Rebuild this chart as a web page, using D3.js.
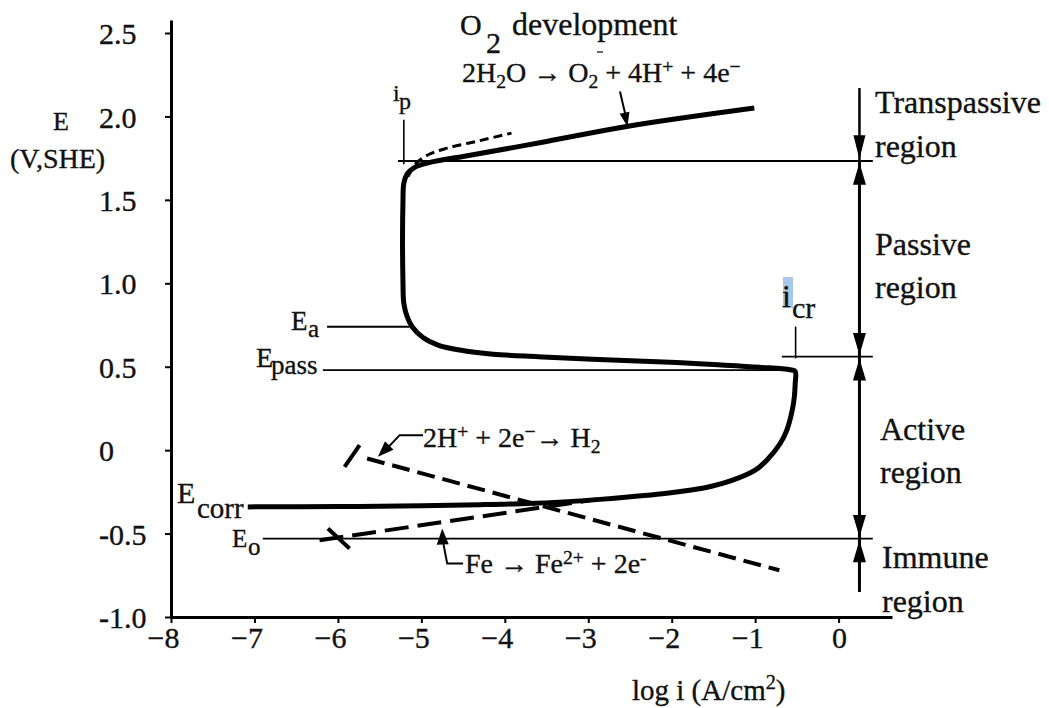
<!DOCTYPE html>
<html><head><meta charset="utf-8">
<script src="https://cdn.jsdelivr.net/npm/d3@7"></script>
<style>
html,body{margin:0;padding:0;background:#fff;}
svg{display:block;}
svg text{font-family:"Liberation Serif","DejaVu Serif",serif !important;fill:#111;stroke:#111;stroke-width:0.35px;}
</style></head><body>
<svg id="chart" width="1049" height="708" font-family="Liberation Serif"></svg>
<script>
// ---------- data ----------
const xTicks = [-8, -7, -6, -5, -4, -3, -2, -1, 0];
const xTickLabels = ["\u22128", "\u22127", "\u22126", "\u22125", "\u22124", "\u22123", "\u22122", "\u22121", "0"];
const yTicks = [-1.0, -0.5, 0, 0.5, 1.0, 1.5, 2.0, 2.5];
const yTickLabels = ["-1.0", "-0.5", "0", "0.5", "1.0", "1.5", "2.0", "2.5"];

// anodic polarization curve [log i, E]
const polarizationCurve = [
  [-7.08, -0.34], [-6.0, -0.338], [-5.0, -0.333], [-4.3, -0.327], [-3.74, -0.32],
  [-3.3, -0.31], [-2.86, -0.295], [-2.4, -0.275], [-2.06, -0.258], [-1.6, -0.225],
  [-1.27, -0.18], [-1.0, -0.12], [-0.86, -0.06], [-0.70, 0.04], [-0.62, 0.12],
  [-0.555, 0.24], [-0.53, 0.32], [-0.52, 0.40], [-0.52, 0.472], [-0.58, 0.482],
  [-0.95, 0.497], [-1.5, 0.513], [-1.94, 0.525], [-2.95, 0.545], [-3.6, 0.56],
  [-4.14, 0.575], [-4.54, 0.60], [-4.80, 0.63], [-4.98, 0.675], [-5.11, 0.74],
  [-5.17, 0.80], [-5.21, 0.88], [-5.22, 1.0], [-5.22, 1.50], [-5.21, 1.60],
  [-5.17, 1.655], [-5.08, 1.695], [-4.92, 1.722], [-4.69, 1.745], [-4.50, 1.76],
  [-3.5, 1.85], [-2.54, 1.94], [-1.01, 2.05]
];
const o2DashedCurve = [[-5.16, 1.64], [-5.06, 1.72], [-4.90, 1.775], [-4.69, 1.81], [-4.30, 1.855], [-3.92, 1.90]];
const h2Line = [[-5.65, -0.05], [-0.71, -0.72]];
const feLine = [[-6.22, -0.54], [-2.9, -0.295]];
const h2Mark = [[-5.92, -0.10], [-5.74, 0.03]];
const feMark = [[-6.12, -0.47], [-5.86, -0.59]];

// reference potentials
const E_trans = 1.733, E_cr = 0.56, E_o = -0.53, E_a = 0.74, E_pass = 0.48;
const i_p = -5.21, i_cr = -0.515;
const regionX = 0.25;

// ---------- setup ----------
const FONT = "Liberation Serif";
const svg = d3.select("#chart");
const xs = d3.scaleLinear().domain([-8, 0.64]).range([171, 892]);
const ys = d3.scaleLinear().domain([-1.0, 2.578]).range([617, 20]);
const line = d3.line().x(d => xs(d[0])).y(d => ys(d[1]));

// ---------- axes ----------
const gx = svg.append("g").attr("transform", `translate(0,${ys(-1.0)})`)
  .call(d3.axisBottom(xs).tickValues(xTicks).tickSizeInner(6).tickSizeOuter(0)
    .tickFormat((d, i) => xTickLabels[i]));
gx.attr("font-family", FONT);
gx.select(".domain").attr("stroke", "#000").attr("stroke-width", 3);
gx.selectAll(".tick line").attr("stroke", "#000").attr("stroke-width", 2);
gx.selectAll(".tick text").attr("font-size", 30).attr("font-family", FONT).attr("fill", "#111")
  .attr("text-anchor", "end").attr("x", 8).attr("y", 31).attr("dy", null);

const gy = svg.append("g").attr("transform", `translate(${xs(-8)},0)`)
  .call(d3.axisLeft(ys).tickValues(yTicks).tickSizeInner(6).tickSizeOuter(0)
    .tickFormat((d, i) => yTickLabels[i]));
gy.attr("font-family", FONT);
gy.select(".domain").attr("stroke", "#000").attr("stroke-width", 3);
gy.selectAll(".tick line").attr("stroke", "#000").attr("stroke-width", 2);
gy.selectAll(".tick text").attr("font-size", 30).attr("font-family", FONT).attr("fill", "#111")
  .attr("text-anchor", "start").attr("x", 99 - 171).attr("y", 1).attr("dy", "0.32em");

// ---------- helpers ----------
function seg(p1, p2, w) {
  svg.append("line").attr("x1", xs(p1[0])).attr("y1", ys(p1[1]))
    .attr("x2", xs(p2[0])).attr("y2", ys(p2[1]))
    .attr("stroke", "#000").attr("stroke-width", w);
}
function head(from, to, len, hw) {
  const x1 = xs(from[0]), y1 = ys(from[1]), x2 = xs(to[0]), y2 = ys(to[1]);
  const a = Math.atan2(y2 - y1, x2 - x1);
  const bx = x2 - len * Math.cos(a), by = y2 - len * Math.sin(a);
  const px = -Math.sin(a) * hw, py = Math.cos(a) * hw;
  svg.append("path").attr("d", `M${x2},${y2}L${bx + px},${by + py}L${bx - px},${by - py}Z`)
    .attr("fill", "#000");
}
function rich(x, y, size, parts, anchor) {
  const t = svg.append("text").attr("x", x).attr("y", y).attr("font-size", size)
    .attr("font-family", FONT).attr("text-anchor", anchor || "start");
  let cur = 0;
  parts.forEach(p => {
    const shift = p[1] || 0, k = p[2] || 1;
    t.append("tspan").attr("dy", shift - cur).attr("font-size", size * k).text(p[0]);
    cur = shift;
  });
  return t;
}

// ---------- reference lines ----------
seg([-5.28, E_trans], [0.41, E_trans], 2.2);
seg([i_p, 1.98], [i_p, E_trans - 0.02], 1.6);
seg([-6.13, E_a], [-5.14, E_a], 2);
seg([-6.18, E_pass], [-0.53, E_pass], 1.8);
seg([i_cr, E_a], [i_cr, E_cr - 0.01], 1.6);
seg([-0.68, E_cr], [0.41, E_cr], 1.8);
seg([-6.90, E_o], [0.41, E_o], 1.8);

// ---------- dashed reaction lines ----------
svg.append("path").attr("d", line(h2Line)).attr("fill", "none").attr("stroke", "#000")
  .attr("stroke-width", 4).attr("stroke-dasharray", "18 8");
svg.append("path").attr("d", line(feLine)).attr("fill", "none").attr("stroke", "#000")
  .attr("stroke-width", 4).attr("stroke-dasharray", "24 9");
svg.append("path").attr("d", line.curve(d3.curveCatmullRom.alpha(0.5))(o2DashedCurve))
  .attr("fill", "none").attr("stroke", "#000")
  .attr("stroke-width", 3).attr("stroke-dasharray", "9 5");
seg(h2Mark[0], h2Mark[1], 4);
seg(feMark[0], feMark[1], 4);

// ---------- main curve ----------
svg.append("path").attr("d", line.curve(d3.curveCatmullRom.alpha(0.5))(polarizationCurve))
  .attr("fill", "none").attr("stroke", "#000").attr("stroke-width", 5)
  .attr("stroke-linejoin", "round").attr("stroke-linecap", "butt");
line.curve(d3.curveLinear);

// ---------- annotation arrows ----------
// O2 arrow
seg([-2.62, 2.15], [-2.545, 1.99], 2);
head([-2.62, 2.15], [-2.53, 1.94], 14, 5);
// H2 arrow
svg.append("path").attr("d", line([[-4.98, 0.09], [-5.26, 0.09], [-5.45, -0.01]]))
  .attr("fill", "none").attr("stroke", "#000").attr("stroke-width", 2);
head([-5.26, 0.09], [-5.52, -0.04], 16, 6);
// Fe arrow
svg.append("path").attr("d", line([[-4.50, -0.68], [-4.69, -0.68], [-4.74, -0.55]]))
  .attr("fill", "none").attr("stroke", "#000").attr("stroke-width", 2);
head([-4.74, -0.62], [-4.75, -0.47], 16, 6);

// region arrows
seg([regionX, 2.17], [regionX, E_trans], 2.5);
head([regionX, 2.17], [regionX, E_trans + 0.01], 24, 6);
seg([regionX, E_trans], [regionX, E_cr], 3);
head([regionX, E_cr], [regionX, E_trans - 0.01], 22, 6.5);
head([regionX, E_trans], [regionX, E_cr + 0.01], 22, 6.5);
seg([regionX, E_cr], [regionX, E_o], 3);
head([regionX, E_o], [regionX, E_cr - 0.01], 22, 6.5);
head([regionX, E_cr], [regionX, E_o + 0.01], 22, 6.5);
seg([regionX, -0.85], [regionX, E_o], 3);
head([regionX, -0.85], [regionX, E_o - 0.01], 22, 6.5);

// ---------- text ----------
// axis titles
rich(53, 130, 26, [["E"]]);
rich(10, 168, 28, [["(V,SHE)"]]);
rich(632, 700, 29, [["log i (A/cm"], ["2", -11, 0.7], [")", 0]]);

// region labels
rich(875, 113, 32, [["Transpassive"]]);
rich(875, 157, 32, [["region"]]);
rich(875, 255, 32, [["Passive"]]);
rich(875, 298, 32, [["region"]]);
rich(880, 440, 32, [["Active"]]);
rich(880, 483, 32, [["region"]]);
rich(882, 568, 32, [["Immune"]]);
rich(882, 612, 32, [["region"]]);

// O2 development
rich(460, 35, 30, [["O"]]);
rich(486, 53, 30, [["2"]]);
rich(512, 35, 32, [["development"]]);
svg.append("line").attr("x1", 597).attr("x2", 603).attr("y1", 52).attr("y2", 52)
  .attr("stroke", "#333").attr("stroke-width", 1.5);
rich(462, 82, 28, [["2H"], ["2", 6, 0.7], ["O \u2192 O", 0], ["2", 6, 0.7], [" + 4H", 0],
  ["+", -9, 0.7], [" + 4e", 0], ["\u2212", -9, 0.7]]);

// ip, icr
rich(393, 101, 24, [["i"]]);
rich(399, 109, 24, [["p"]]);
svg.append("rect").attr("x", 783).attr("y", 277).attr("width", 10).attr("height", 31)
  .attr("fill", "#a9c8e6");
rich(782, 307, 32, [["i"]]);
rich(792, 318, 30, [["cr"]]);

// potentials
rich(291, 330, 27, [["E"]]);
rich(308, 337, 25, [["a"]]);
rich(256, 367, 28, [["E"]]);
rich(271, 374, 27, [["pass"]]);
rich(177, 503, 30, [["E"]]);
rich(197, 518, 29, [["corr"]]);
rich(232, 547, 25, [["E"]]);
rich(248, 555, 25, [["o"]]);

// reactions
rich(423, 447, 28, [["2H"], ["+", -9, 0.7], [" + 2e", 0], ["\u2212", -9, 0.7], ["\u2192 H", 0], ["2", 6, 0.7]]);
rich(465, 573, 28, [["Fe \u2192 Fe"], ["2+", -9, 0.7], [" + 2e", 0], ["-", -9, 0.7]]);
</script>
</body></html>
